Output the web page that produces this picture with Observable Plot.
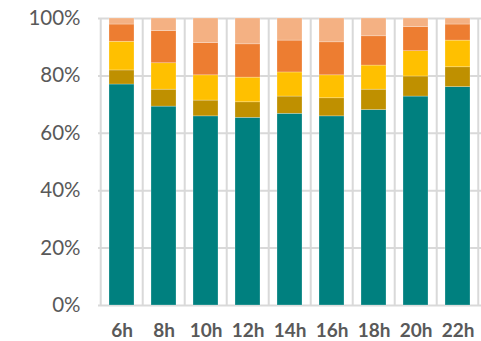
<!DOCTYPE html>
<html><head><meta charset="utf-8">
<script src="https://cdn.jsdelivr.net/npm/d3@7"></script>
<script src="https://cdn.jsdelivr.net/npm/@observablehq/plot@0.6"></script>
<style>body{margin:0;background:#fff} svg{display:block}</style>
</head><body><div id="chart"></div>
<script>
const hours = ["6h","8h","10h","12h","14h","16h","18h","20h","22h"];
const series = ["Série 1","Série 2","Série 3","Série 4","Série 5"];
const colors = ["#00807F","#BF9000","#FFC000","#ED7D31","#F4B183"];
const serie1 = [77.0, 69.3, 65.9, 65.4, 66.8, 65.9, 68.1, 72.8, 76.1];
const serie2 = [4.9, 5.9, 5.5, 5.4, 6.0, 6.3, 7.1, 7.0, 6.9];
const serie3 = [10.0, 9.2, 8.8, 8.6, 8.4, 8.0, 8.4, 8.8, 9.3];
const serie4 = [6.0, 11.2, 11.2, 11.6, 11.1, 11.5, 10.2, 8.4, 5.6];
const serie5 = [2.1, 4.4, 8.6, 9.0, 7.7, 8.3, 6.2, 3.0, 2.1];
const yTicks = [0, 20, 40, 60, 80, 100];

const allSeries = [serie1, serie2, serie3, serie4, serie5];
const data = [];
allSeries.forEach((vals, si) => vals.forEach((v, hi) => data.push({hour: hours[hi], series: series[si], value: v})));

const W = 481, H = 341, ML = 98, MR = 0;
const step = (W - ML - MR) / hours.length;

const chart = Plot.plot({
  width: W, height: H,
  marginLeft: ML, marginRight: MR, marginTop: 18, marginBottom: 36,
  style: {fontFamily: "Lato, 'Open Sans', sans-serif", background: "#fff"},
  x: {domain: hours, paddingInner: 0.4, paddingOuter: 0.2, label: null},
  y: {domain: [0, 100], label: null},
  color: {domain: series, range: colors},
  marks: [
    Plot.ruleY(yTicks, {y: d => d, stroke: "#d9d9d9", strokeWidth: 2}),
    Plot.ruleX(hours, {x: d => d, y1: 0, y2: 100, dx: -step / 2, stroke: "#d9d9d9", strokeWidth: 2}),
    Plot.ruleX([hours[hours.length - 1]], {x: d => d, y1: 0, y2: 100, dx: step / 2 - 1, stroke: "#d9d9d9", strokeWidth: 2}),
    Plot.barY(data, {x: "hour", y: "value", fill: "series", order: series, stroke: "#ffffff", strokeOpacity: 0.4, strokeWidth: 0.6}),
    Plot.axisY({ticks: yTicks, tickFormat: d => d + "%", tickSize: 0, tickPadding: 18, fontSize: 20.5, fill: "#595959", label: null}),
    Plot.axisX({tickSize: 0, tickPadding: 18, fontSize: 19, fontWeight: "bold", fill: "#595959", label: null})
  ]
});
document.getElementById("chart").appendChild(chart);
</script>
</body></html>
